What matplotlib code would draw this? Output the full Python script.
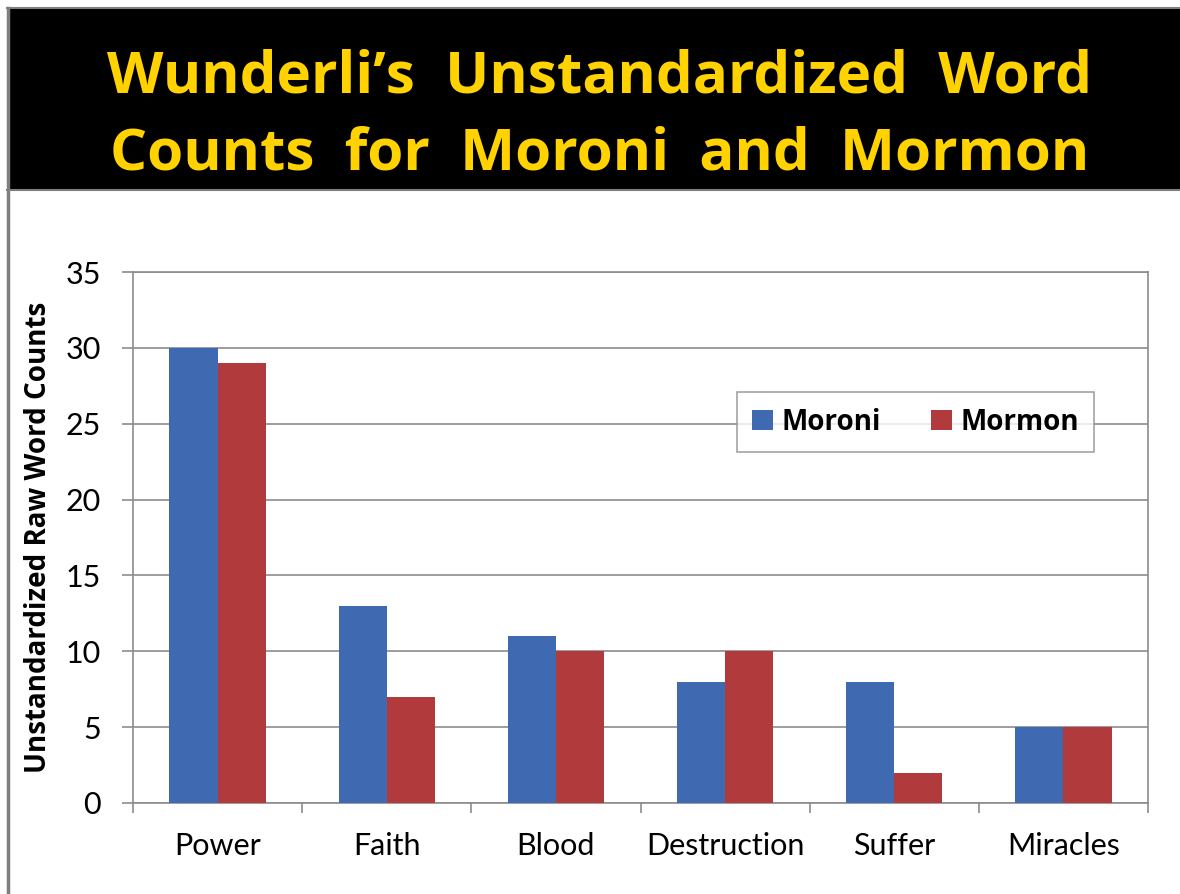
import matplotlib.pyplot as plt
import numpy as np
from matplotlib.patches import Rectangle
from matplotlib.lines import Line2D

# data
categories = ["Power", "Faith", "Blood", "Destruction", "Suffer", "Miracles"]
moroni = [30, 13, 11, 8, 8, 5]
mormon = [29, 7, 10, 10, 2, 5]

blue = "#3F69B0"
red = "#B03A3C"
grid_gray = "#8C8C8C"

fig = plt.figure(figsize=(11.8, 8.94), dpi=100)

# slide frame: black title band and gray border lines
fig.patches.append(Rectangle((7 / 1180, 1 - 189 / 894), 1, 181 / 894,
                             transform=fig.transFigure, facecolor="black",
                             edgecolor="none", zorder=0))
fig.lines.append(Line2D([7 / 1180, 1], [1 - 7.5 / 894, 1 - 7.5 / 894],
                        transform=fig.transFigure, color="#7F7F7F", lw=1.5))
fig.lines.append(Line2D([8 / 1180, 8 / 1180], [0, 1 - 7.5 / 894],
                        transform=fig.transFigure, color="#7F7F7F", lw=2.5))
fig.lines.append(Line2D([7 / 1180, 1], [1 - 190 / 894, 1 - 190 / 894],
                        transform=fig.transFigure, color="#7F7F7F", lw=1.5))

fig.text(0.508, 1 - 116 / 894,
         "Wunderli\u2019s  Unstandardized  Word\nCounts  for  Moroni  and  Mormon",
         ha="center", va="center", color="#FFD200", fontsize=42,
         fontweight="bold", family="Open Sans", linespacing=1.42)

# plot area
ax = fig.add_axes([133 / 1180, 1 - 803 / 894, 1015 / 1180, 531 / 894])
x = np.arange(len(categories))
w = 0.285
ax.bar(x - w / 2, moroni, w, color=blue, label="Moroni", zorder=3)
ax.bar(x + w / 2, mormon, w, color=red, label="Mormon", zorder=3)

ax.set_xlim(-0.5, len(categories) - 0.5)
ax.set_ylim(0, 35)
ax.set_yticks(range(0, 36, 5))
ax.yaxis.grid(True, color=grid_gray, lw=1.2, zorder=0)
ax.set_axisbelow(True)

for s in ax.spines.values():
    s.set_color(grid_gray)
    s.set_linewidth(1.2)

# x ticks at category boundaries, labels centred on groups
ax.set_xticks(np.arange(-0.5, len(categories), 1))
ax.set_xticklabels([])
ax.set_xticks(x, minor=True)
ax.set_xticklabels(categories, minor=True, fontsize=22, family="Lato")
ax.tick_params(axis="x", which="major", length=7, color=grid_gray, width=1.2)
ax.tick_params(axis="x", which="minor", length=0, pad=21)
ax.tick_params(axis="y", length=8, color=grid_gray, width=1.2, labelsize=22,
               pad=15)
for lab in ax.get_yticklabels():
    lab.set_family("Lato")

ax.set_ylabel("Unstandardized Raw Word Counts", fontsize=20, fontweight="bold",
              family="Open Sans")
ax.yaxis.set_label_coords(-80 / 1015, 0.5)

leg = ax.legend(ncol=2, loc="center", bbox_to_anchor=(0.771, 0.717),
                frameon=True, fancybox=False, edgecolor=grid_gray,
                prop={"family": "Open Sans", "weight": "bold", "size": 20},
                handlelength=0.75, handleheight=0.75, handletextpad=0.3,
                columnspacing=1.8, borderpad=0.55, borderaxespad=0)
leg.get_frame().set_linewidth(1.2)

fig.savefig("out.png", dpi=100)
